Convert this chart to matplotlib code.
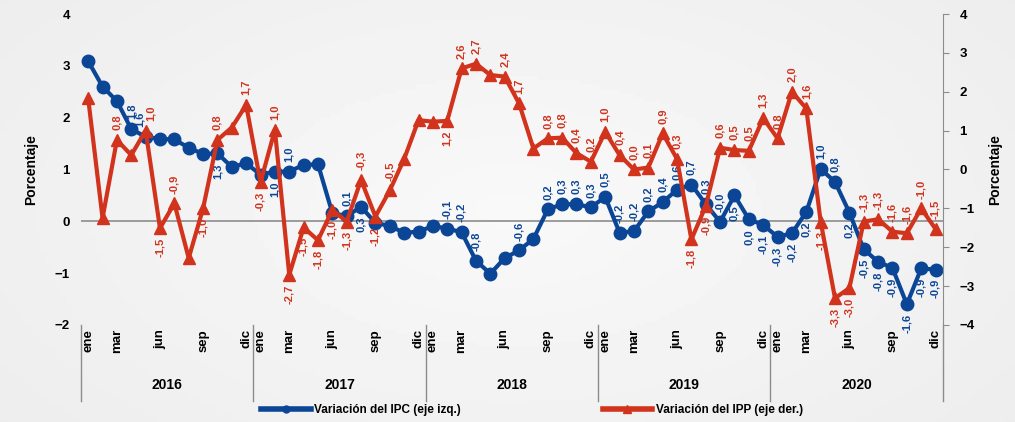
import numpy as np
import matplotlib.pyplot as plt
from matplotlib.lines import Line2D
import matplotlib.transforms as mtransforms

plt.rcParams["font.family"] = ["Liberation Sans", "DejaVu Sans"]
plt.rcParams["font.weight"] = "bold"

years = ["2016", "2017", "2018", "2019", "2020"]
month_ticks = {0: "ene", 2: "mar", 5: "jun", 8: "sep", 11: "dic"}

# variación IPC (eje izquierdo)
ipc = [3.09, 2.60, 2.32, 1.78, 1.63, 1.59, 1.58, 1.42, 1.30, 1.31, 1.05, 1.12,
       0.90, 0.96, 0.96, 1.09, 1.10, 0.16, 0.10, 0.28, -0.03, -0.09, -0.22, -0.20,
       -0.09, -0.14, -0.21, -0.76, -1.01, -0.71, -0.56, -0.34, 0.23, 0.33, 0.33, 0.27,
       0.47, -0.22, -0.19, 0.19, 0.37, 0.61, 0.71, 0.33, -0.01, 0.50, 0.04, -0.07,
       -0.30, -0.23, 0.18, 1.01, 0.76, 0.17, -0.54, -0.78, -0.90, -1.60, -0.91, -0.93]

# variación IPP (eje derecho)
ipp = [1.83, -1.25, 0.76, 0.37, 1.00, -1.51, -0.87, -2.28, -1.00, 0.76, 1.08, 1.66,
       -0.33, 1.02, -2.71, -1.49, -1.82, -1.04, -1.34, -0.27, -1.21, -0.54, 0.27, 1.27,
       1.23, 1.25, 2.60, 2.72, 2.43, 2.39, 1.70, 0.54, 0.80, 0.82, 0.42, 0.20,
       0.97, 0.37, 0.00, 0.05, 0.93, 0.27, -1.80, -0.94, 0.56, 0.50, 0.48, 1.32,
       0.80, 2.00, 1.57, -1.34, -3.31, -3.05, -1.34, -1.28, -1.60, -1.64, -1.00, -1.53]

# etiquetas visibles: a = arriba, b = abajo, - = sin etiqueta
ipc_lab = "---aa----b--" "-ba---ab----" "-aaa--a-aaaa" "aaaaaaaaabbb" "bbbaabbbbbbb"
ipp_lab = "--a-aba-ba-a" "babbbbbaba--" "-baa-aa-aaaa" "aaaaaabbaaaa" "aaabbbaaaaaa"

blue = "#0b4596"
red = "#d1331d"

fig = plt.figure(figsize=(10.15, 4.22), dpi=100)

# fondo gris claro con degradado suave
bg = fig.add_axes([0, 0, 1, 1], zorder=-10)
gx, gy = np.meshgrid(np.linspace(-1, 1, 200), np.linspace(-1, 1, 100))
r = np.sqrt((gx * 0.9) ** 2 + (gy * 0.7) ** 2)
bg.imshow(0.975 - 0.04 * r, cmap="gray", vmin=0, vmax=1, aspect="auto",
          extent=[0, 1, 0, 1])
bg.axis("off")

ax = fig.add_axes([0.0798, 0.2299, 0.849, 0.7369])
ax.patch.set_alpha(0)
ax2 = ax.twinx()

x = np.arange(len(ipc))
ax.plot(x, ipc, color=blue, lw=3, marker="o", ms=9, zorder=3)
ax2.plot(x, ipp, color=red, lw=3, marker="^", ms=9, zorder=3)

ax.axhline(0, color="#8c8c8c", lw=1.2, zorder=1)

ax.set_xlim(-0.5, len(ipc) - 0.5)
ax.set_ylim(-2, 4)
ax2.set_ylim(-4, 4)
ax.set_yticks(range(-2, 5))
ax2.set_yticks(range(-4, 5))

for a in (ax, ax2):
    for s in a.spines.values():
        s.set_visible(False)
ax.tick_params(axis="y", length=0, labelsize=9.5, pad=8)
ax2.tick_params(axis="y", length=4, color="#8c8c8c", labelsize=9.5, pad=8)
ax2.spines["right"].set_visible(True)
ax2.spines["right"].set_color("#8c8c8c")

ticks, labels = [], []
for yi in range(len(years)):
    for m, lab in month_ticks.items():
        ticks.append(yi * 12 + m)
        labels.append(lab)
ax.set_xticks(ticks)
ax.set_xticklabels(labels, rotation=90, fontsize=9.5, va="top")
ax.tick_params(axis="x", length=0, pad=3)

trans = mtransforms.blended_transform_factory(ax.transData, ax.transAxes)
for yi in range(len(years) + 1):
    ax.plot([yi * 12 - 0.5] * 2, [0, -0.245], transform=trans, color="#8c8c8c",
            lw=1, clip_on=False)
for yi, yr in enumerate(years):
    ax.text(yi * 12 + 5.5, -0.193, yr, transform=trans, ha="center",
            va="center", fontsize=10, fontweight="bold")

ax.set_ylabel("Porcentaje", fontsize=10, fontweight="bold", labelpad=12)
ax2.set_ylabel("Porcentaje", fontsize=10, fontweight="bold", labelpad=10,
               rotation=90)


def fmt(v):
    return f"{v:.1f}".replace(".", ",")


# si ambas series tienen etiqueta arriba en el mismo mes y a altura parecida,
# se separan un poco en horizontal
ipc_px = ax.transData.transform(np.column_stack([x, ipc]))[:, 1]
ipp_px = ax2.transData.transform(np.column_stack([x, ipp]))[:, 1]
clash = [(ipc_lab[i] == ipp_lab[i] != "-") and abs(ipc_px[i] - ipp_px[i]) < 30
         for i in range(len(x))]


def add_labels(axis, vals, where, color, side):
    for i, v in enumerate(vals):
        if where[i] == "-":
            continue
        below = where[i] == "b"
        off = -7 if below else 7
        dx = 4 * side if clash[i] else 0
        axis.annotate(fmt(v), (i, v), xytext=(dx, off), textcoords="offset points",
                      rotation=90, ha="center", va="top" if below else "bottom",
                      fontsize=8, fontweight="bold", color=color, zorder=4)


add_labels(ax, ipc, ipc_lab, blue, -1)
add_labels(ax2, ipp, ipp_lab, red, 1)

handles = [
    Line2D([], [], color=blue, lw=4, marker="o", ms=5),
    Line2D([], [], color=red, lw=4, marker="^", ms=6),
]
fig.legend(handles, ["Variación del IPC (eje izq.)", "Variación del IPP (eje der.)"],
           loc="center", bbox_to_anchor=(0.524, 0.028), ncol=2, frameon=False,
           fontsize=8.5, handlelength=4.2, columnspacing=12, handletextpad=0.3)

fig.savefig("out.png", dpi=100)
